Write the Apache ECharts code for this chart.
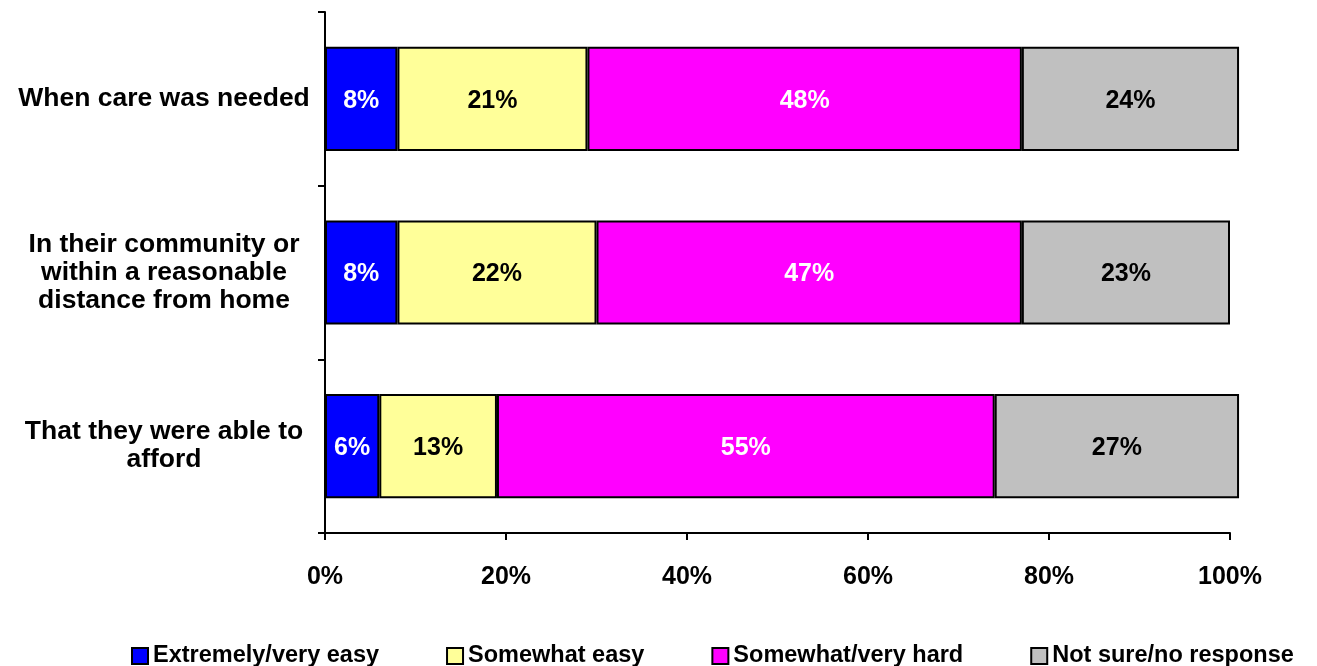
<!DOCTYPE html>
<html>
<head>
<meta charset="utf-8">
<script src="https://cdn.jsdelivr.net/npm/echarts@6/dist/echarts.min.js"></script>
<style>
html,body{margin:0;padding:0;background:#fff;}
#chart{width:1317px;height:666px;}
</style>
</head>
<body>
<div id="chart"></div>
<script>
var categories = ['When care was needed', 'In their community or\nwithin a reasonable\ndistance from home', 'That they were able to\nafford'];
var seriesNames = ['Extremely/very easy', 'Somewhat easy', 'Somewhat/very hard', 'Not sure/no response'];
var easyVals = [8, 8, 6];
var somewhatEasyVals = [21, 22, 13];
var hardVals = [48, 47, 55];
var notSureVals = [24, 23, 27];
var xTicks = [0, 20, 40, 60, 80, 100];

var colors = ['#0000FF', '#FFFF99', '#FF00FF', '#C0C0C0'];
var labelColors = ['#FFFFFF', '#000000', '#FFFFFF', '#000000'];
var dataSets = [easyVals, somewhatEasyVals, hardVals, notSureVals];
var FONT = '"Liberation Sans", Arial, sans-serif';

var chart = echarts.init(document.getElementById('chart'));
var series = dataSets.map(function (d, i) {
  return {
    name: seriesNames[i],
    type: 'bar',
    stack: 'total',
    data: d,
    clip: false,
    barCategoryGap: '40%',
    itemStyle: { color: colors[i], borderColor: '#000', borderWidth: 2 },
    label: {
      show: true,
      position: 'inside',
      formatter: '{c}%',
      color: labelColors[i],
      fontFamily: FONT,
      fontWeight: 'bold',
      fontSize: 25,
      offset: [0, 2]
    }
  };
});

chart.setOption({
  animation: false,
  backgroundColor: '#fff',
  grid: { left: 325, right: 87, top: 12, bottom: 133, containLabel: false },
  legend: {
    data: seriesNames,
    top: 639,
    left: 126,
    itemGap: 67,
    itemWidth: 16,
    itemHeight: 16,
    icon: 'rect',
    itemStyle: { borderColor: '#000', borderWidth: 2 },
    textStyle: { fontFamily: FONT, fontWeight: 'bold', fontSize: 23.5, color: '#000' }
  },
  xAxis: {
    type: 'value',
    min: xTicks[0],
    max: xTicks[xTicks.length - 1],
    interval: xTicks[1] - xTicks[0],
    axisLine: { show: true, lineStyle: { color: '#000', width: 2 } },
    axisTick: { show: true, length: 7, lineStyle: { color: '#000', width: 2 } },
    splitLine: { show: false },
    axisLabel: {
      formatter: '{value}%',
      margin: 32,
      color: '#000',
      fontFamily: FONT,
      fontWeight: 'bold',
      fontSize: 25
    }
  },
  yAxis: {
    type: 'category',
    inverse: true,
    data: categories,
    axisLine: { show: true, lineStyle: { color: '#000', width: 2 } },
    axisTick: { show: true, length: 7, lineStyle: { color: '#000', width: 2 } },
    axisLabel: {
      align: 'center',
      margin: 161,
      color: '#000',
      fontFamily: FONT,
      fontWeight: 'bold',
      fontSize: 26.5,
      lineHeight: 28,
      padding: [4, 0, 0, 0]
    }
  },
  series: series
});
</script>
</body>
</html>
